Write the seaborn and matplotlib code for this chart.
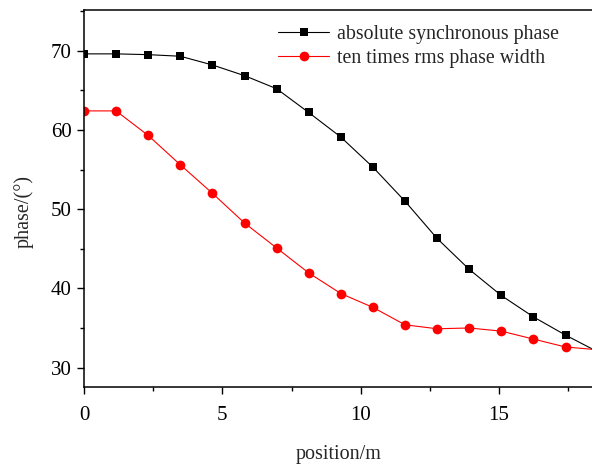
import matplotlib
matplotlib.use("Agg")
import matplotlib.pyplot as plt
import seaborn as sns
import pandas as pd
from matplotlib.ticker import MultipleLocator

position = [0.0, 1.16, 2.32, 3.48, 4.64, 5.80, 6.96, 8.12, 9.28, 10.44,
            11.60, 12.76, 13.92, 15.08, 16.24, 17.40, 18.56]
sync_phase = [69.6, 69.6, 69.5, 69.3, 68.2, 66.85, 65.2, 62.2, 59.1, 55.3,
              51.0, 46.3, 42.4, 39.1, 36.4, 34.1, 32.0]
rms_width10 = [62.4, 62.4, 59.3, 55.6, 52.0, 48.25, 45.1, 41.95, 39.35, 37.6,
               35.4, 34.9, 35.0, 34.6, 33.6, 32.6, 32.25]
labels = ["absolute synchronous phase", "ten times rms phase width"]

sns.set_theme(style="ticks")
plt.rcParams['font.family'] = ['Liberation Serif', 'DejaVu Serif']
plt.rcParams['mathtext.fontset'] = 'stix'

fig = plt.figure(figsize=(5.92, 4.66), dpi=100)
ax = fig.add_axes([84/592, 1 - 387/466, 1 - 84/592 + 0.002, (387 - 9.5)/466])

df1 = pd.DataFrame({"position": position, "phase": sync_phase})
df2 = pd.DataFrame({"position": position, "phase": rms_width10})

sns.lineplot(data=df1, x="position", y="phase", ax=ax, color="black",
             marker="s", markersize=6, markeredgewidth=0, linewidth=0.8,
             label=labels[0])
sns.lineplot(data=df2, x="position", y="phase", ax=ax, color="#ff0000",
             marker="o", markersize=7, markeredgewidth=0, linewidth=0.8,
             label=labels[1])

ax.set_xlim(0, 18.4)
ax.set_ylim(27.55, 75.2)
ax.xaxis.set_major_locator(MultipleLocator(5))
ax.xaxis.set_minor_locator(MultipleLocator(2.5))
ax.yaxis.set_major_locator(MultipleLocator(10))
ax.yaxis.set_minor_locator(MultipleLocator(5))
ax.tick_params(which="major", direction="out", length=5, width=1,
               labelsize=15, color="black", labelcolor="black", pad=4)
ax.tick_params(which="minor", direction="out", length=3, width=1, color="black")
ax.tick_params(axis="x", pad=9)

for s in ["left", "bottom", "top"]:
    ax.spines[s].set_linewidth(1.1)
    ax.spines[s].set_color("black")
ax.spines["right"].set_visible(False)

ax.set_xlabel("position/m", fontsize=14.5, labelpad=14)
ax.set_ylabel("phase/(°)", fontsize=14.5, labelpad=12)
ax.yaxis.label.set_y(0.465)

leg = ax.legend(loc="upper left", bbox_to_anchor=(0.357, 0.99), frameon=False,
                fontsize=14.3, handlelength=2.6, handletextpad=0.4,
                labelspacing=0.25, borderaxespad=0.2)
fig.savefig("out.png", dpi=100)
